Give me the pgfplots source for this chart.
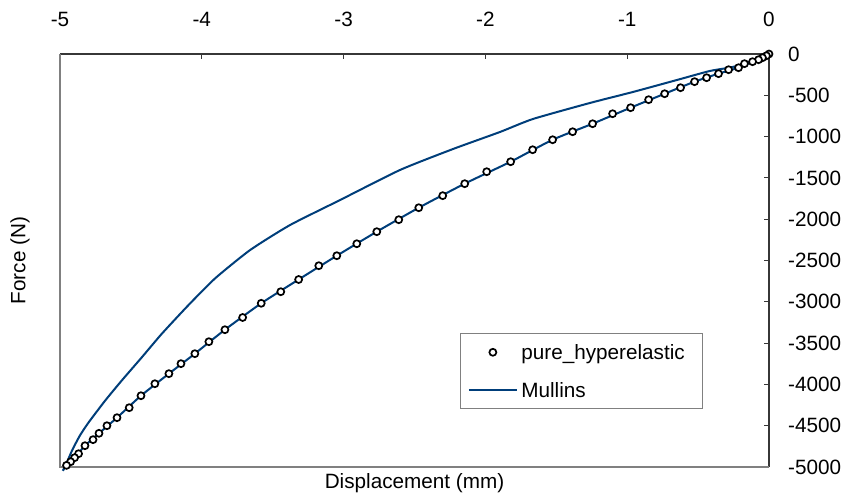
\documentclass[border=0pt]{standalone}
\usepackage{pgfplots}
\pgfplotsset{compat=1.18}
\usepackage{pgfplotstable}
\usepackage{fontspec}
\setmainfont{Liberation Sans}

\definecolor{mullins}{RGB}{0,62,122}
\definecolor{axisdark}{RGB}{55,55,55}
\definecolor{framegray}{RGB}{128,128,128}

\pgfplotsset{
  linelegend/.style={legend image code/.code={\draw[##1, smooth=false] (0bp,0bp) -- (48bp,0bp);}},
  marklegend/.style={legend image code/.code={\draw[##1] plot coordinates {(24bp,0bp)};}},
}

% Pure hyperelastic response (displacement in mm, force in N)
\pgfplotstableread{
x F
0 0
-0.018 -21
-0.046 -45
-0.074 -69
-0.116 -93
-0.173 -117
-0.215 -166
-0.285 -190
-0.356 -238
-0.440 -287
-0.525 -335
-0.624 -408
-0.736 -481
-0.849 -553
-0.976 -650
-1.103 -723
-1.244 -844
-1.385 -941
-1.526 -1038
-1.667 -1159
-1.822 -1304
-1.991 -1425
-2.146 -1570
-2.301 -1715
-2.470 -1861
-2.611 -2006
-2.766 -2151
-2.907 -2297
-3.048 -2442
-3.175 -2563
-3.317 -2730
-3.443 -2878
-3.581 -3018
-3.712 -3190
-3.837 -3338
-3.950 -3483
-4.049 -3628
-4.147 -3749
-4.232 -3870
-4.331 -3992
-4.429 -4137
-4.512 -4282
-4.598 -4403
-4.669 -4500
-4.725 -4592
-4.767 -4669
-4.824 -4742
-4.869 -4839
-4.897 -4887
-4.925 -4936
-4.954 -4980
}\hyper

% Mullins model: loading branch then unloading branch
\pgfplotstableread{
x F
0 0
-0.046 -45
-0.116 -93
-0.215 -166
-0.356 -238
-0.525 -335
-0.736 -481
-0.976 -650
-1.244 -844
-1.526 -1038
-1.822 -1304
-2.146 -1570
-2.470 -1861
-2.766 -2151
-3.048 -2442
-3.317 -2730
-3.581 -3018
-3.837 -3338
-4.049 -3628
-4.232 -3870
-4.429 -4137
-4.598 -4403
-4.725 -4592
-4.824 -4742
-4.897 -4887
-4.954 -4980
-4.980 -5045
-4.955 -4960
-4.915 -4800
-4.860 -4620
-4.798 -4460
-4.681 -4195
-4.563 -3950
-4.422 -3670
-4.281 -3385
-4.094 -3040
-3.906 -2716
-3.659 -2373
-3.377 -2070
-3.025 -1768
-2.602 -1404
-2.228 -1150
-1.897 -944
-1.665 -787
-1.263 -593
-0.960 -460
-0.650 -315
-0.418 -206
-0.256 -157
-0.087 -73
0 0
}\mullinsdata

\begin{document}
\fontsize{20.7bp}{25bp}\selectfont
\begin{tikzpicture}
\begin{axis}[
  name=main,
  scale only axis, width=709bp, height=413bp,
  xmin=-5, xmax=0, ymin=-5000, ymax=0,
  xtick={-5,-4,-3,-2,-1,0},
  ytick={-5000,-4500,-4000,-3500,-3000,-2500,-2000,-1500,-1000,-500,0},
  axis x line*=top, axis y line*=right,
  axis line style={axisdark, line width=1.2bp},
  tick align=inside, major tick length=5bp,
  tick style={axisdark, line width=1bp},
  /pgf/number format/assume math mode=true,
  /pgf/number format/1000 sep={},
  xticklabel style={anchor=south, inner sep=0pt},
  xticklabel shift=27bp,
  yticklabel style={anchor=west, inner sep=0pt},
  yticklabel shift=19bp,
  every axis x label/.style={at={(rel axis cs:0.5,0)}, anchor=center, yshift=-16bp},
  every axis y label/.style={at={(rel axis cs:0,0.5)}, xshift=-40bp, anchor=center, rotate=90},
  xlabel={Displacement (mm)}, ylabel={Force (N)},
  clip=false,
  reverse legend,
  legend cell align=left,
  legend style={at={(rel axis cs:0.564,0.3245)}, anchor=north west,
    draw=framegray, line width=1bp, inner xsep=7.5bp, inner ysep=0bp,
    nodes={text height=15bp, text depth=0bp, inner ysep=11.3bp, inner xsep=3.5bp}},
]
% plot-area frame on the two sides without axis lines
\draw[framegray, line width=1.2bp] (rel axis cs:0,1) -- (rel axis cs:0,0) -- (rel axis cs:1,0);

\addplot[mullins, line width=2bp, smooth, tension=0.35, linelegend]
  table[x=x, y=F] {\mullinsdata};
\addlegendentry{Mullins}

\addplot[only marks, mark=*, mark size=3.5bp,
  mark options={draw=black, fill=white, line width=1.7bp}, marklegend]
  table[x=x, y=F] {\hyper};
\addlegendentry{pure\_hyperelastic\kern7bp}
\end{axis}
\path (main.south west) ++(-60bp,-33bp) rectangle ++(848bp,500bp);
\end{tikzpicture}
\end{document}
